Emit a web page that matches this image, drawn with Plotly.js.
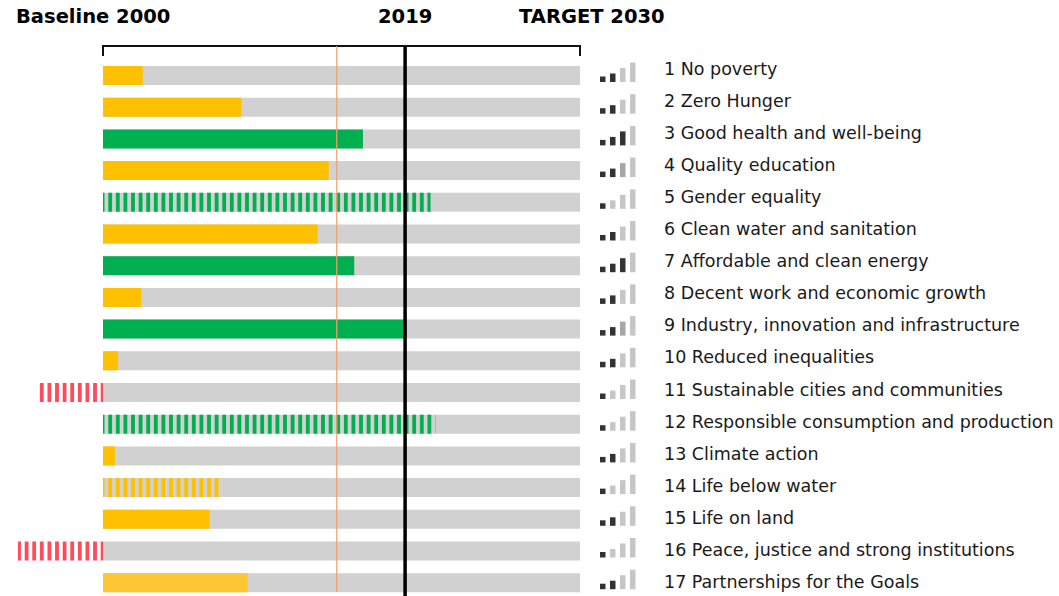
<!DOCTYPE html>
<html><head><meta charset="utf-8">
<script src="https://cdn.plot.ly/plotly-3.0.1.min.js"></script>
<style>html,body{margin:0;padding:0;background:#fff}#chart{width:1059px;height:596px}</style>
</head><body><div id="chart"></div>
<script>
// ---- data ----
const goals = [
  "1 No poverty","2 Zero Hunger","3 Good health and well-being","4 Quality education",
  "5 Gender equality","6 Clean water and sanitation","7 Affordable and clean energy",
  "8 Decent work and economic growth","9 Industry, innovation and infrastructure",
  "10 Reduced inequalities","11 Sustainable cities and communities",
  "12 Responsible consumption and production","13 Climate action","14 Life below water",
  "15 Life on land","16 Peace, justice and strong institutions","17 Partnerships for the Goals"
];
// progress expressed as year-equivalent on the 2000 -> 2030 scale
const progressYear = [2002.5,2008.7,2016.35,2014.2,2020.6,2013.5,2015.8,2002.4,2019.0,
                      2000.95,1995.9,2020.9,2000.75,2007.35,2006.7,1994.65,2009.1];
const statusColor = ["#FFC000","#FFC000","#00B050","#FFC000","#00B050","#FFC000","#00B050",
                     "#FFC000","#00B050","#FFC000","#FF4B5C","#00B050","#FFC000","#FFC000",
                     "#FFC000","#FF4B5C","#FCC634"];
const striped = [0,0,0,0,1,0,0,0,0,0,1,1,0,1,0,1,0];
const trendLevel = [2,2,3,2.5,1,2,3,2,2.5,2,1,1,2,1,2,1,2];
const baselineYear = 2000, currentYear = 2019, targetYear = 2030, referenceYear = 2014.7;
const headers = ["Baseline 2000","2019","TARGET 2030"];

// ---- layout helpers ----
const W = 1059, H = 596;
const rows = goals.map((_, i) => i);
const pxPerYear = 477 / (targetYear - baselineYear);
const x0px = 103;
const xRange = [baselineYear - x0px / pxPerYear, baselineYear + (W - x0px) / pxPerYear];
const rowTop = 75.5, rowStep = 31.7;
const yRange = [(H - rowTop) / rowStep, -rowTop / rowStep];

const bg = {
  type: "bar", orientation: "h", y: rows,
  x: rows.map(() => targetYear - baselineYear), base: baselineYear,
  width: 0.6, marker: {color: "#D0D1D0", line: {width: 0}}, hoverinfo: "skip"
};
const prog = {
  type: "bar", orientation: "h", y: rows,
  x: progressYear.map(v => v - baselineYear), base: baselineYear,
  width: 0.6,
  marker: {
    color: statusColor, line: {width: 0},
    pattern: {shape: striped.map(s => s ? "|" : ""), size: 7.6, solidity: 0.5,
              fgcolor: statusColor, bgcolor: "#ffffff", fillmode: "replace"}
  },
  hoverinfo: "skip"
};

const shapes = [];
// bracket
shapes.push({type: "path", xref: "x", yref: "paper", layer: "above",
  path: `M ${baselineYear},${1-56/H} L ${baselineYear},${1-46/H} L ${targetYear},${1-46/H} L ${targetYear},${1-56/H}`,
  line: {color: "#111", width: 2}});
// reference and 2019 lines
shapes.push({type: "line", xref: "x", yref: "paper", x0: referenceYear, x1: referenceYear,
  y0: 1-46/H, y1: 1-592/H, layer: "above", line: {color: "#F0A06A", width: 1.2}});
shapes.push({type: "line", xref: "x", yref: "paper", x0: currentYear, x1: currentYear,
  y0: 1-46/H, y1: 0, layer: "above", line: {color: "#000", width: 3.5}});
// trend icons
const iconH = [5.5, 8.5, 14, 19.5];
trendLevel.forEach((lv, i) => {
  const bottom = i + 6.5 / rowStep;
  for (let k = 0; k < 4; k++) {
    let c = "#C6C6C6";
    if (k < Math.floor(lv)) c = "#333333";
    else if (k === Math.floor(lv) && lv % 1) c = "#AAA5A5";
    shapes.push({type: "rect", xref: "paper", yref: "y",
      x0: (600 + 10*k)/W, x1: (605.5 + 10*k)/W,
      y0: bottom, y1: bottom - iconH[k]/rowStep,
      fillcolor: c, line: {width: 0}});
  }
});

const annotations = goals.map((g, i) => ({
  text: g, xref: "paper", yref: "paper", x: 662/W, xanchor: "left",
  y: 1 - (69 + 32.05*i)/H, yanchor: "middle", showarrow: false,
  font: {family: "DejaVu Sans", size: 17.5, color: "#1a1a1a"}
}));
const hdrFont = {family: "DejaVu Sans", size: 19.5, color: "#000", weight: "bold"};
annotations.push({text: "<b>"+headers[0]+"</b>", xref: "paper", yref: "paper", x: 14/W, xanchor: "left",
  y: 1-17/H, yanchor: "middle", showarrow: false, font: hdrFont});
annotations.push({text: "<b>"+headers[1]+"</b>", xref: "x", yref: "paper", x: currentYear, xanchor: "center",
  y: 1-17/H, yanchor: "middle", showarrow: false, font: hdrFont});
annotations.push({text: "<b>"+headers[2]+"</b>", xref: "paper", yref: "paper", x: 517/W, xanchor: "left",
  y: 1-17/H, yanchor: "middle", showarrow: false, font: hdrFont});

const layout = {
  width: W, height: H, margin: {l: 0, r: 0, t: 0, b: 0},
  paper_bgcolor: "#fff", plot_bgcolor: "#fff",
  barmode: "overlay", showlegend: false,
  xaxis: {range: xRange, visible: false, fixedrange: true},
  yaxis: {range: yRange, visible: false, fixedrange: true},
  shapes, annotations
};
Plotly.newPlot("chart", [bg, prog], layout, {displayModeBar: false, staticPlot: true});
</script></body></html>
